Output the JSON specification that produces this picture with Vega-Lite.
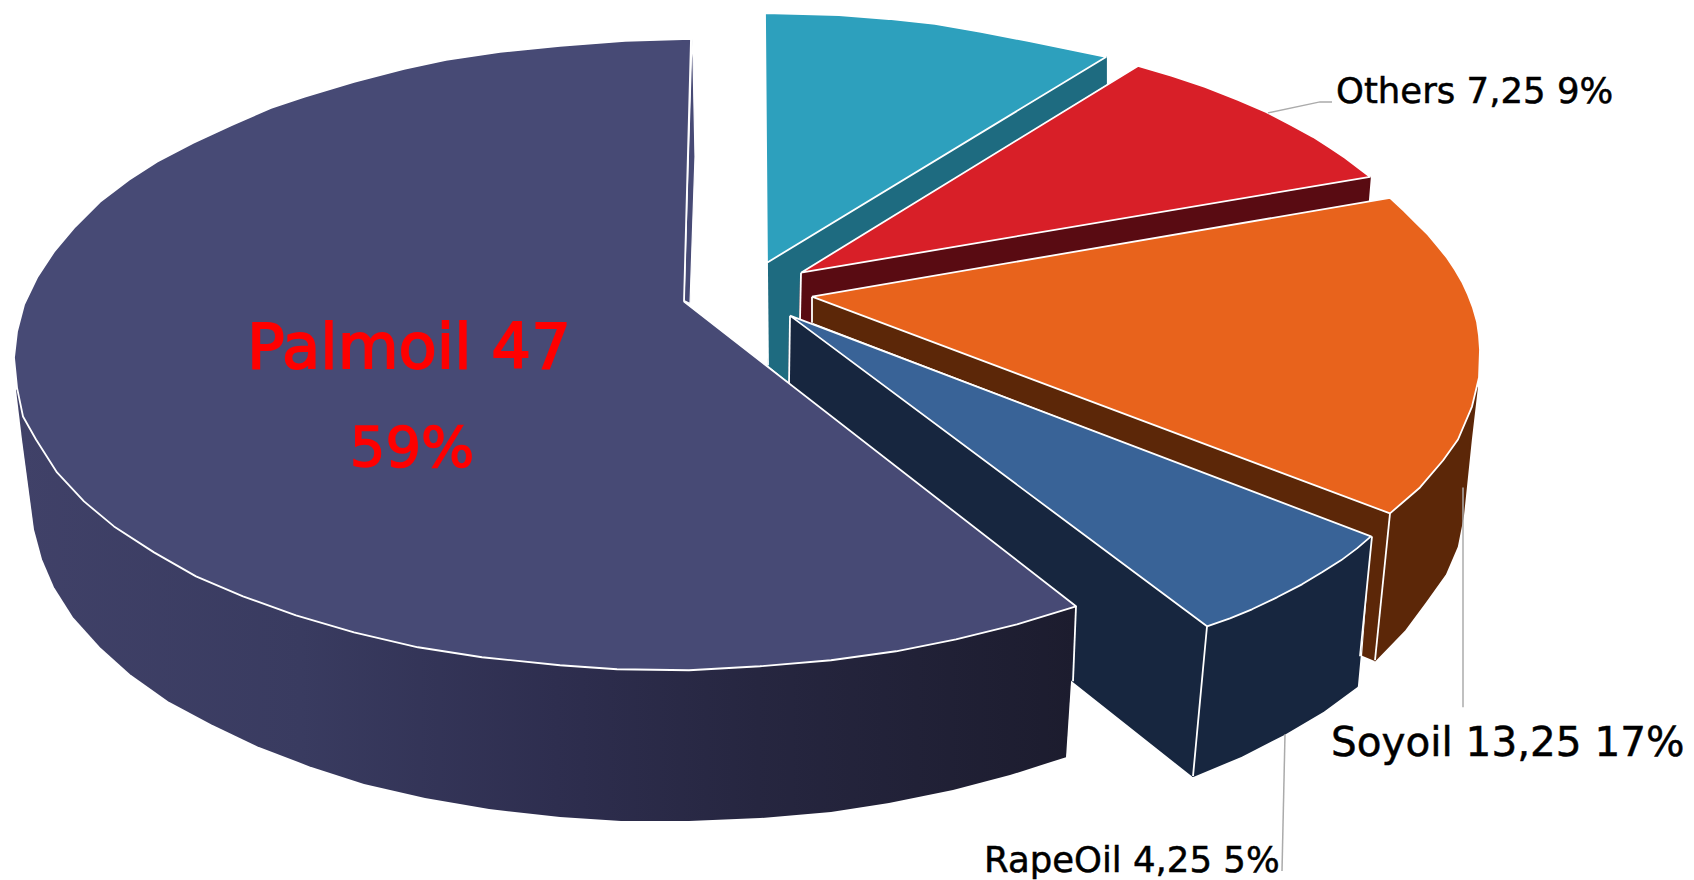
{"$schema":"https://vega.github.io/schema/vega-lite/v6.json","width":1694,"height":880,"padding":0,"autosize":{"type":"fit","contains":"padding"},"background":"white","view":{"stroke":null},"config":{"style":{"cell":{"stroke":null}}},
"datasets":{
"shapes":[
{"s":"a","part":"TealSide","i":0,"x":768,"y":263},{"s":"a","part":"TealSide","i":1,"x":1106,"y":57},{"s":"a","part":"TealSide","i":2,"x":1106,"y":84},{"s":"a","part":"TealSide","i":3,"x":801,"y":274},{"s":"a","part":"TealSide","i":4,"x":800,"y":385},{"s":"a","part":"TealSide","i":5,"x":789,"y":382},{"s":"a","part":"TealSide","i":6,"x":768,"y":365},{"s":"a","part":"TealSide","i":7,"x":768,"y":263},
{"s":"b","part":"TealTop","i":0,"x":767,"y":263},{"s":"b","part":"TealTop","i":1,"x":765,"y":13},{"s":"b","part":"TealTop","i":2,"x":803,"y":14},{"s":"b","part":"TealTop","i":3,"x":839,"y":15},{"s":"b","part":"TealTop","i":4,"x":889,"y":19},{"s":"b","part":"TealTop","i":5,"x":935,"y":24},{"s":"b","part":"TealTop","i":6,"x":981,"y":32},{"s":"b","part":"TealTop","i":7,"x":1028,"y":41},{"s":"b","part":"TealTop","i":8,"x":1067,"y":49},{"s":"b","part":"TealTop","i":9,"x":1106,"y":57},{"s":"b","part":"TealTop","i":10,"x":767,"y":263},
{"s":"c","part":"RedSide","i":0,"x":801,"y":274},{"s":"c","part":"RedSide","i":1,"x":1370,"y":177},{"s":"c","part":"RedSide","i":2,"x":1368,"y":201},{"s":"c","part":"RedSide","i":3,"x":812,"y":297},{"s":"c","part":"RedSide","i":4,"x":812,"y":324},{"s":"c","part":"RedSide","i":5,"x":800,"y":320},{"s":"c","part":"RedSide","i":6,"x":801,"y":274},
{"s":"d","part":"RedTop","i":0,"x":801,"y":273},{"s":"d","part":"RedTop","i":1,"x":1138,"y":66},{"s":"d","part":"RedTop","i":2,"x":1172,"y":76},{"s":"d","part":"RedTop","i":3,"x":1205,"y":87},{"s":"d","part":"RedTop","i":4,"x":1238,"y":100},{"s":"d","part":"RedTop","i":5,"x":1266,"y":112},{"s":"d","part":"RedTop","i":6,"x":1291,"y":125},{"s":"d","part":"RedTop","i":7,"x":1313,"y":137},{"s":"d","part":"RedTop","i":8,"x":1330,"y":148},{"s":"d","part":"RedTop","i":9,"x":1345,"y":158},{"s":"d","part":"RedTop","i":10,"x":1370,"y":177},{"s":"d","part":"RedTop","i":11,"x":801,"y":273},
{"s":"e","part":"OrangeSide","i":0,"x":812,"y":297},{"s":"e","part":"OrangeSide","i":1,"x":1390,"y":514},{"s":"e","part":"OrangeSide","i":2,"x":1375,"y":661},{"s":"e","part":"OrangeSide","i":3,"x":1363,"y":656},{"s":"e","part":"OrangeSide","i":4,"x":1372,"y":537},{"s":"e","part":"OrangeSide","i":5,"x":812,"y":322},{"s":"e","part":"OrangeSide","i":6,"x":812,"y":297},
{"s":"f","part":"OrangeSide","i":0,"x":1390,"y":514},{"s":"f","part":"OrangeSide","i":1,"x":1477,"y":388},{"s":"f","part":"OrangeSide","i":2,"x":1471,"y":440},{"s":"f","part":"OrangeSide","i":3,"x":1463,"y":517},{"s":"f","part":"OrangeSide","i":4,"x":1457,"y":547},{"s":"f","part":"OrangeSide","i":5,"x":1445,"y":575},{"s":"f","part":"OrangeSide","i":6,"x":1425,"y":603},{"s":"f","part":"OrangeSide","i":7,"x":1405,"y":630},{"s":"f","part":"OrangeSide","i":8,"x":1375,"y":661},{"s":"f","part":"OrangeSide","i":9,"x":1390,"y":514},
{"s":"g","part":"OrangeTop","i":0,"x":812,"y":297},{"s":"g","part":"OrangeTop","i":1,"x":1390,"y":198},{"s":"g","part":"OrangeTop","i":2,"x":1404,"y":211},{"s":"g","part":"OrangeTop","i":3,"x":1416,"y":223},{"s":"g","part":"OrangeTop","i":4,"x":1428,"y":235},{"s":"g","part":"OrangeTop","i":5,"x":1438,"y":247},{"s":"g","part":"OrangeTop","i":6,"x":1447,"y":258},{"s":"g","part":"OrangeTop","i":7,"x":1455,"y":270},{"s":"g","part":"OrangeTop","i":8,"x":1462,"y":282},{"s":"g","part":"OrangeTop","i":9,"x":1468,"y":295},{"s":"g","part":"OrangeTop","i":10,"x":1473,"y":308},{"s":"g","part":"OrangeTop","i":11,"x":1477,"y":322},{"s":"g","part":"OrangeTop","i":12,"x":1479,"y":336},{"s":"g","part":"OrangeTop","i":13,"x":1480,"y":350},{"s":"g","part":"OrangeTop","i":14,"x":1479,"y":378},{"s":"g","part":"OrangeTop","i":15,"x":1472,"y":407},{"s":"g","part":"OrangeTop","i":16,"x":1458,"y":440},{"s":"g","part":"OrangeTop","i":17,"x":1443,"y":461},{"s":"g","part":"OrangeTop","i":18,"x":1420,"y":488},{"s":"g","part":"OrangeTop","i":19,"x":1390,"y":514},{"s":"g","part":"OrangeTop","i":20,"x":812,"y":297},
{"s":"h","part":"BlueSide","i":0,"x":790,"y":316},{"s":"h","part":"BlueSide","i":1,"x":1207,"y":627},{"s":"h","part":"BlueSide","i":2,"x":1193,"y":777},{"s":"h","part":"BlueSide","i":3,"x":1072,"y":681},{"s":"h","part":"BlueSide","i":4,"x":789,"y":383},{"s":"h","part":"BlueSide","i":5,"x":790,"y":316},
{"s":"j","part":"BlueSide","i":0,"x":1207,"y":627},{"s":"j","part":"BlueSide","i":1,"x":1371,"y":537},{"s":"j","part":"BlueSide","i":2,"x":1357,"y":687},{"s":"j","part":"BlueSide","i":3,"x":1323,"y":712},{"s":"j","part":"BlueSide","i":4,"x":1284,"y":735},{"s":"j","part":"BlueSide","i":5,"x":1241,"y":757},{"s":"j","part":"BlueSide","i":6,"x":1193,"y":777},{"s":"j","part":"BlueSide","i":7,"x":1207,"y":627},
{"s":"k","part":"BlueTop","i":0,"x":790,"y":316},{"s":"k","part":"BlueTop","i":1,"x":1371,"y":537},{"s":"k","part":"BlueTop","i":2,"x":1357,"y":549},{"s":"k","part":"BlueTop","i":3,"x":1341,"y":561},{"s":"k","part":"BlueTop","i":4,"x":1322,"y":573},{"s":"k","part":"BlueTop","i":5,"x":1302,"y":585},{"s":"k","part":"BlueTop","i":6,"x":1277,"y":598},{"s":"k","part":"BlueTop","i":7,"x":1252,"y":610},{"s":"k","part":"BlueTop","i":8,"x":1230,"y":619},{"s":"k","part":"BlueTop","i":9,"x":1207,"y":627},{"s":"k","part":"BlueTop","i":10,"x":790,"y":316}
],
"edges":[
{"e":"a","i":0,"x":767,"y":263},{"e":"a","i":1,"x":768,"y":366},
{"e":"b","i":0,"x":801,"y":273},{"e":"b","i":1,"x":800,"y":320},
{"e":"c","i":0,"x":812,"y":297},{"e":"c","i":1,"x":812,"y":323},
{"e":"d","i":0,"x":790,"y":316},{"e":"d","i":1,"x":789,"y":384},
{"e":"f","i":0,"x":1390,"y":514},{"e":"f","i":1,"x":1375,"y":661},
{"e":"g","i":0,"x":1372,"y":537},{"e":"g","i":1,"x":1360,"y":657},
{"e":"h","i":0,"x":1207,"y":627},{"e":"h","i":1,"x":1193,"y":777}
],
"palmSide":[
{"i":0,"x":16,"y":390},{"i":1,"x":1076,"y":607},{"i":2,"x":1066,"y":758},{"i":3,"x":1010,"y":776},{"i":4,"x":953,"y":791},{"i":5,"x":889,"y":804},{"i":6,"x":831,"y":813},{"i":7,"x":760,"y":819},{"i":8,"x":689,"y":822},{"i":9,"x":621,"y":822},{"i":10,"x":560,"y":818},{"i":11,"x":489,"y":810},{"i":12,"x":425,"y":799},{"i":13,"x":364,"y":785},{"i":14,"x":309,"y":767},{"i":15,"x":257,"y":747},{"i":16,"x":211,"y":725},{"i":17,"x":168,"y":702},{"i":18,"x":130,"y":675},{"i":19,"x":100,"y":648},{"i":20,"x":73,"y":618},{"i":21,"x":54,"y":588},{"i":22,"x":42,"y":560},{"i":23,"x":34,"y":530},{"i":24,"x":22,"y":440},{"i":25,"x":16,"y":390}
],
"palmSliver":[
{"i":0,"x":692,"y":39},{"i":1,"x":693,"y":58},{"i":2,"x":695,"y":157},{"i":3,"x":690,"y":304},{"i":4,"x":684,"y":301},{"i":5,"x":692,"y":39}
],
"palmTop":[
{"i":0,"x":684,"y":302},{"i":1,"x":691,"y":39},{"i":2,"x":625,"y":41},{"i":3,"x":560,"y":46},{"i":4,"x":500,"y":52},{"i":5,"x":446,"y":60},{"i":6,"x":404,"y":69},{"i":7,"x":354,"y":82},{"i":8,"x":304,"y":97},{"i":9,"x":271,"y":108},{"i":10,"x":232,"y":125},{"i":11,"x":193,"y":143},{"i":12,"x":157,"y":162},{"i":13,"x":129,"y":180},{"i":14,"x":100,"y":202},{"i":15,"x":75,"y":227},{"i":16,"x":54,"y":252},{"i":17,"x":37.5,"y":277},{"i":18,"x":24,"y":305},{"i":19,"x":17,"y":332},{"i":20,"x":14,"y":358},{"i":21,"x":17,"y":388},{"i":22,"x":23,"y":417},{"i":23,"x":36,"y":440},{"i":24,"x":57,"y":473},{"i":25,"x":84,"y":502},{"i":26,"x":114,"y":527},{"i":27,"x":154,"y":553},{"i":28,"x":196,"y":577},{"i":29,"x":243,"y":597},{"i":30,"x":296,"y":616},{"i":31,"x":354,"y":633},{"i":32,"x":418,"y":648},{"i":33,"x":482,"y":658},{"i":34,"x":560,"y":666},{"i":35,"x":617,"y":670},{"i":36,"x":689,"y":671},{"i":37,"x":760,"y":667},{"i":38,"x":831,"y":661},{"i":39,"x":896,"y":652},{"i":40,"x":956,"y":640},{"i":41,"x":1017,"y":625},{"i":42,"x":1076,"y":607},{"i":43,"x":684,"y":302}
],
"palmEdge":[{"i":0,"x":1076,"y":607},{"i":1,"x":1073,"y":682}],
"leaders":[
{"l":"Others","i":0,"x":1268,"y":113},{"l":"Others","i":1,"x":1320,"y":102},{"l":"Others","i":2,"x":1332,"y":102},
{"l":"Soyoil","i":0,"x":1463,"y":488},{"l":"Soyoil","i":1,"x":1463,"y":708},
{"l":"RapeOil","i":0,"x":1285,"y":735},{"l":"RapeOil","i":1,"x":1282,"y":872}
],
"labels":[
{"text":"Others 7,25 9%","x":1336,"y":103},
{"text":"RapeOil 4,25 5%","x":984,"y":873}
],
"soyLabel":[{"text":"Soyoil 13,25 17%","x":1331,"y":757}],
"palmLabel":[{"text":"Palmoil 47","x":409,"y":368}],
"palmPct":[{"text":"59%","x":412,"y":467}]
},
"layer":[
{"data":{"name":"shapes"},"mark":{"type":"line","strokeWidth":1.8,"strokeJoin":"round","clip":false},"encoding":{
"x":{"field":"x","type":"quantitative","scale":{"domain":[0,1694],"nice":false,"zero":false},"axis":null},
"y":{"field":"y","type":"quantitative","scale":{"domain":[880,0],"nice":false,"zero":false},"axis":null},
"detail":{"field":"s"},"order":{"field":"i","type":"quantitative"},
"fill":{"field":"part","type":"nominal","legend":null,"scale":{"domain":["TealSide","TealTop","RedSide","RedTop","OrangeSide","OrangeTop","BlueSide","BlueTop"],"range":["#1E6B80","#2DA0BD","#590B12","#D81F28","#5C2708","#E8631C","#17263F","#396397"]}},
"stroke":{"field":"part","type":"nominal","legend":null,"scale":{"domain":["TealSide","TealTop","RedSide","RedTop","OrangeSide","OrangeTop","BlueSide","BlueTop"],"range":["#1E6B80","#ffffff","#590B12","#ffffff","#5C2708","#ffffff","#17263F","#ffffff"]}}
}},
{"data":{"name":"edges"},"mark":{"type":"line","stroke":"#ffffff","strokeWidth":1.8},"encoding":{
"x":{"field":"x","type":"quantitative"},"y":{"field":"y","type":"quantitative"},"detail":{"field":"e"},"order":{"field":"i","type":"quantitative"}}},
{"data":{"name":"palmSliver"},"mark":{"type":"line","fill":"#474A75","stroke":"#ffffff","strokeWidth":1.2},"encoding":{
"x":{"field":"x","type":"quantitative"},"y":{"field":"y","type":"quantitative"},"order":{"field":"i","type":"quantitative"}}},
{"data":{"name":"palmSide"},"mark":{"type":"line","stroke":null,"fill":{"gradient":"linear","x1":0,"x2":1,"y1":0,"y2":0,"stops":[{"offset":0,"color":"#404168"},{"offset":0.27,"color":"#393B60"},{"offset":0.51,"color":"#2E2E4F"},{"offset":0.7,"color":"#262640"},{"offset":1,"color":"#1C1C2E"}]}},"encoding":{
"x":{"field":"x","type":"quantitative"},"y":{"field":"y","type":"quantitative"},"order":{"field":"i","type":"quantitative"}}},
{"data":{"name":"palmTop"},"mark":{"type":"line","fill":"#474A75","stroke":"#ffffff","strokeWidth":1.8,"strokeJoin":"round"},"encoding":{
"x":{"field":"x","type":"quantitative"},"y":{"field":"y","type":"quantitative"},"order":{"field":"i","type":"quantitative"}}},
{"data":{"name":"palmEdge"},"mark":{"type":"line","stroke":"#ffffff","strokeWidth":1.8},"encoding":{
"x":{"field":"x","type":"quantitative"},"y":{"field":"y","type":"quantitative"},"order":{"field":"i","type":"quantitative"}}},
{"data":{"name":"leaders"},"mark":{"type":"line","stroke":"#ABABAB","strokeWidth":1.5},"encoding":{
"x":{"field":"x","type":"quantitative"},"y":{"field":"y","type":"quantitative"},"detail":{"field":"l"},"order":{"field":"i","type":"quantitative"}}},
{"data":{"name":"labels"},"mark":{"type":"text","align":"left","baseline":"alphabetic","font":"DejaVu Sans","fontSize":35.5,"fill":"#000000","stroke":"#000000","strokeWidth":0.5},"encoding":{
"x":{"field":"x","type":"quantitative"},"y":{"field":"y","type":"quantitative"},"text":{"field":"text"}}},
{"data":{"name":"soyLabel"},"mark":{"type":"text","align":"left","baseline":"alphabetic","font":"DejaVu Sans","fontSize":40.5,"fill":"#000000","stroke":"#000000","strokeWidth":0.5},"encoding":{
"x":{"field":"x","type":"quantitative"},"y":{"field":"y","type":"quantitative"},"text":{"field":"text"}}},
{"data":{"name":"palmLabel"},"mark":{"type":"text","align":"center","baseline":"alphabetic","font":"DejaVu Sans","fontSize":62.5,"fill":"#FF0000","stroke":"#FF0000","strokeWidth":1.8},"encoding":{
"x":{"field":"x","type":"quantitative"},"y":{"field":"y","type":"quantitative"},"text":{"field":"text"}}},
{"data":{"name":"palmPct"},"mark":{"type":"text","align":"center","baseline":"alphabetic","font":"DejaVu Sans","fontSize":56,"fill":"#FF0000","stroke":"#FF0000","strokeWidth":1.5},"encoding":{
"x":{"field":"x","type":"quantitative"},"y":{"field":"y","type":"quantitative"},"text":{"field":"text"}}}
]}
